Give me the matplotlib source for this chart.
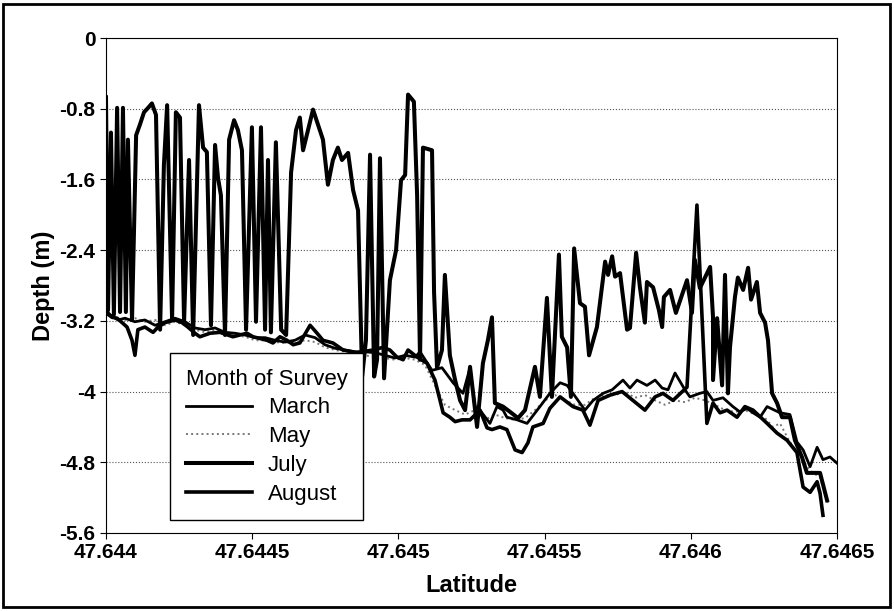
import numpy as np
import matplotlib
matplotlib.use("Agg")
from matplotlib import pyplot as plt
from matplotlib.patches import Rectangle

# depth surveys along the transect
march_lat = [47.644000, 47.644014, 47.644041, 47.644065, 47.644099, 47.644133, 47.644168, 47.644202,
             47.644236, 47.644270, 47.644304, 47.644339, 47.644373, 47.644407, 47.644441, 47.644475,
             47.644510, 47.644544, 47.644578, 47.644612, 47.644646, 47.644681, 47.644715, 47.644749,
             47.644783, 47.644817, 47.644852, 47.644886, 47.644920, 47.644954, 47.644988, 47.645023,
             47.645057, 47.645074, 47.645115, 47.645149, 47.645187, 47.645221, 47.645245, 47.645262,
             47.645279, 47.645313, 47.645337, 47.645358, 47.645371, 47.645406, 47.645440, 47.645484,
             47.645518, 47.645553, 47.645577, 47.645597, 47.645638, 47.645666, 47.645700, 47.645731,
             47.645768, 47.645792, 47.645816, 47.645850, 47.645878, 47.645902, 47.645922, 47.645946,
             47.645980, 47.645997, 47.646031, 47.646055, 47.646076, 47.646110, 47.646144, 47.646168,
             47.646192, 47.646213, 47.646237, 47.646261, 47.646305, 47.646339, 47.646363, 47.646384,
             47.646408, 47.646432, 47.646452, 47.646476, 47.646500]
march_depth = [-3.08, -3.13, -3.19, -3.17, -3.21, -3.19, -3.25, -3.21,
               -3.17, -3.21, -3.28, -3.30, -3.28, -3.33, -3.34, -3.36,
               -3.39, -3.39, -3.42, -3.44, -3.42, -3.36, -3.39, -3.47,
               -3.51, -3.53, -3.55, -3.55, -3.56, -3.59, -3.62, -3.59,
               -3.61, -3.55, -3.76, -3.73, -3.90, -4.02, -3.73, -4.17,
               -4.21, -4.36, -4.17, -4.21, -4.29, -4.32, -4.36, -4.17,
               -4.02, -3.90, -3.93, -4.02, -4.21, -4.10, -4.02, -3.98,
               -3.87, -3.96, -3.87, -3.93, -3.87, -3.96, -3.98, -3.79,
               -3.98, -4.06, -4.02, -4.00, -4.10, -4.07, -4.17, -4.23,
               -4.19, -4.24, -4.29, -4.17, -4.24, -4.26, -4.57, -4.66,
               -4.85, -4.63, -4.77, -4.74, -4.81]

may_lat = [47.644000, 47.644031, 47.644065, 47.644099, 47.644133, 47.644168, 47.644202, 47.644236,
           47.644270, 47.644304, 47.644339, 47.644373, 47.644407, 47.644441, 47.644475, 47.644510,
           47.644544, 47.644578, 47.644612, 47.644646, 47.644681, 47.644715, 47.644749, 47.644783,
           47.644817, 47.644852, 47.644886, 47.644920, 47.644954, 47.644988, 47.645023, 47.645057,
           47.645091, 47.645125, 47.645159, 47.645194, 47.645228, 47.645262, 47.645296, 47.645330,
           47.645365, 47.645399, 47.645433, 47.645467, 47.645501, 47.645536, 47.645570, 47.645604,
           47.645638, 47.645672, 47.645707, 47.645741, 47.645775, 47.645809, 47.645843, 47.645878,
           47.645912, 47.645946, 47.645980, 47.646014, 47.646049, 47.646083, 47.646117, 47.646151,
           47.646185, 47.646220, 47.646254, 47.646281, 47.646305, 47.646329, 47.646350, 47.646373,
           47.646397, 47.646418, 47.646442, 47.646469]
may_depth = [-3.10, -3.17, -3.19, -3.17, -3.21, -3.19, -3.25, -3.21,
             -3.25, -3.30, -3.33, -3.30, -3.36, -3.36, -3.38, -3.42,
             -3.42, -3.44, -3.45, -3.44, -3.42, -3.44, -3.50, -3.53,
             -3.55, -3.59, -3.59, -3.61, -3.62, -3.64, -3.62, -3.64,
             -3.70, -3.93, -4.15, -4.21, -4.26, -4.21, -4.32, -4.26,
             -4.30, -4.32, -4.30, -4.21, -4.10, -4.04, -4.10, -4.15,
             -4.15, -4.07, -4.04, -4.04, -4.00, -4.07, -4.04, -4.10,
             -4.15, -4.10, -4.12, -4.07, -4.10, -4.15, -4.21, -4.23,
             -4.21, -4.26, -4.30, -4.40, -4.36, -4.51, -4.63, -4.69,
             -4.85, -4.92, -4.97, -5.26]

july_lat = [47.644000, 47.644007, 47.644017, 47.644027, 47.644038, 47.644048, 47.644058, 47.644068,
            47.644075, 47.644089, 47.644103, 47.644116, 47.644130, 47.644144, 47.644157, 47.644171,
            47.644185, 47.644198, 47.644209, 47.644226, 47.644239, 47.644253, 47.644267, 47.644284,
            47.644298, 47.644318, 47.644332, 47.644345, 47.644359, 47.644373, 47.644383, 47.644393,
            47.644407, 47.644421, 47.644438, 47.644451, 47.644465, 47.644479, 47.644499, 47.644513,
            47.644530, 47.644544, 47.644554, 47.644564, 47.644581, 47.644599, 47.644616, 47.644633,
            47.644650, 47.644663, 47.644674, 47.644691, 47.644708, 47.644725, 47.644742, 47.644759,
            47.644776, 47.644793, 47.644807, 47.644828, 47.644845, 47.644862, 47.644876, 47.644889,
            47.644903, 47.644917, 47.644927, 47.644937, 47.644951, 47.644971, 47.644992, 47.645009,
            47.645023, 47.645033, 47.645053, 47.645064, 47.645074, 47.645084, 47.645115, 47.645122,
            47.645132, 47.645149, 47.645159, 47.645176, 47.645194, 47.645211, 47.645228, 47.645245,
            47.645269, 47.645289, 47.645306, 47.645320, 47.645330, 47.645358, 47.645382, 47.645409,
            47.645433, 47.645467, 47.645484, 47.645508, 47.645525, 47.645549, 47.645559, 47.645577,
            47.645590, 47.645601, 47.645621, 47.645638, 47.645652, 47.645679, 47.645707, 47.645717,
            47.645731, 47.645741, 47.645758, 47.645782, 47.645792, 47.645813, 47.645826, 47.645843,
            47.645850, 47.645871, 47.645891, 47.645902, 47.645908, 47.645929, 47.645949, 47.645987,
            47.646004, 47.646014, 47.646031, 47.646066, 47.646076, 47.646076, 47.646090, 47.646107,
            47.646117, 47.646127, 47.646134, 47.646151, 47.646161, 47.646179, 47.646196, 47.646206,
            47.646226, 47.646237, 47.646254, 47.646264, 47.646278, 47.646295, 47.646312, 47.646339,
            47.646356, 47.646380, 47.646397, 47.646418, 47.646442, 47.646466]
july_depth = [-0.67, -3.08, -1.07, -3.13, -0.79, -3.10, -0.79, -3.10,
              -1.15, -3.19, -1.10, -0.98, -0.84, -0.79, -0.74, -0.87,
              -3.30, -1.44, -0.76, -3.19, -0.84, -0.90, -3.21, -1.38,
              -3.36, -0.76, -1.24, -1.29, -3.25, -1.21, -1.58, -1.78,
              -3.36, -1.15, -0.93, -1.04, -1.27, -3.30, -1.01, -3.21,
              -1.01, -3.30, -1.38, -3.33, -1.18, -3.30, -3.36, -1.52,
              -1.04, -0.90, -1.27, -1.04, -0.81, -0.98, -1.15, -1.66,
              -1.38, -1.24, -1.38, -1.30, -1.72, -1.95, -3.83, -3.42,
              -1.32, -3.83, -3.64, -1.36, -3.85, -2.74, -2.40, -1.61,
              -1.55, -0.64, -0.72, -1.78, -3.64, -1.24, -1.27, -2.88,
              -3.73, -3.53, -2.68, -3.59, -3.87, -4.10, -4.21, -3.72,
              -4.40, -3.68, -3.42, -3.16, -4.13, -4.17, -4.23, -4.30,
              -4.21, -3.72, -4.06, -2.94, -4.06, -2.45, -3.38, -3.50,
              -4.06, -2.38, -3.00, -3.04, -3.59, -3.27, -2.53, -2.68,
              -2.47, -2.70, -2.66, -3.30, -3.28, -2.43, -2.82, -3.22,
              -2.76, -2.82, -3.08, -3.27, -2.93, -2.85, -3.11, -2.74,
              -3.11, -2.51, -2.83, -2.59, -3.16, -3.87, -3.17, -3.93,
              -2.68, -4.02, -3.50, -2.93, -2.71, -2.85, -2.60, -2.96,
              -2.76, -3.11, -3.22, -3.42, -4.02, -4.13, -4.29, -4.29,
              -4.55, -4.74, -4.92, -4.92, -4.92, -5.23]

august_lat = [47.644000, 47.644021, 47.644038, 47.644055, 47.644072, 47.644089, 47.644099, 47.644109,
              47.644133, 47.644161, 47.644178, 47.644202, 47.644236, 47.644260, 47.644280, 47.644304,
              47.644321, 47.644356, 47.644390, 47.644434, 47.644458, 47.644482, 47.644503, 47.644551,
              47.644571, 47.644595, 47.644619, 47.644640, 47.644663, 47.644698, 47.644722, 47.644742,
              47.644776, 47.644811, 47.644858, 47.644913, 47.644947, 47.644971, 47.644995, 47.645016,
              47.645033, 47.645064, 47.645098, 47.645125, 47.645153, 47.645176, 47.645194, 47.645218,
              47.645245, 47.645279, 47.645303, 47.645320, 47.645347, 47.645371, 47.645399, 47.645423,
              47.645443, 47.645460, 47.645495, 47.645518, 47.645553, 47.645597, 47.645631, 47.645655,
              47.645683, 47.645724, 47.645765, 47.645802, 47.645843, 47.645878, 47.645905, 47.645939,
              47.645987, 47.646021, 47.646055, 47.646076, 47.646100, 47.646124, 47.646158, 47.646185,
              47.646213, 47.646261, 47.646295, 47.646329, 47.646363, 47.646384, 47.646408, 47.646432,
              47.646442, 47.646452]
august_depth = [-3.11, -3.16, -3.17, -3.22, -3.27, -3.42, -3.59, -3.30,
                -3.27, -3.33, -3.27, -3.22, -3.19, -3.22, -3.27, -3.34,
                -3.38, -3.34, -3.33, -3.38, -3.36, -3.34, -3.38, -3.42,
                -3.45, -3.38, -3.42, -3.47, -3.45, -3.25, -3.34, -3.42,
                -3.45, -3.53, -3.56, -3.53, -3.50, -3.53, -3.61, -3.64,
                -3.53, -3.61, -3.68, -3.87, -4.24, -4.29, -4.34, -4.32,
                -4.32, -4.21, -4.41, -4.43, -4.40, -4.43, -4.66, -4.69,
                -4.58, -4.40, -4.36, -4.19, -4.06, -4.17, -4.21, -4.38,
                -4.10, -4.04, -4.00, -4.10, -4.21, -4.06, -4.02, -4.10,
                -3.95, -1.89, -4.36, -4.13, -4.24, -4.21, -4.29, -4.17,
                -4.21, -4.36, -4.47, -4.55, -4.69, -5.08, -5.14, -5.02,
                -5.15, -5.40]

xtick_vals = [47.644, 47.6445, 47.645, 47.6455, 47.646, 47.6465]
xtick_labels = ["47.644", "47.6445", "47.645", "47.6455", "47.646", "47.6465"]
ytick_vals = [0, -0.8, -1.6, -2.4, -3.2, -4.0, -4.8, -5.6]
ytick_labels = ["0", "-0.8", "-1.6", "-2.4", "-3.2", "-4", "-4.8", "-5.6"]

plt.rcParams['font.family'] = ['Liberation Sans', 'DejaVu Sans']

fig = plt.figure(figsize=(8.94, 6.11), dpi=100)
ax = fig.add_axes([106/894, 1 - 533/611, 731/894, 495/611])

ax.plot(may_lat, may_depth, color='#777777', lw=1.4, ls=':', label='May')
ax.plot(march_lat, march_depth, color='black', lw=2.0, label='March')
ax.plot(august_lat, august_depth, color='black', lw=2.6, label='August')
ax.plot(july_lat, july_depth, color='black', lw=2.9, label='July')

ax.set_xlim(47.644, 47.6465)
ax.set_ylim(-5.6, 0)
ax.set_xticks(xtick_vals)
ax.set_xticklabels(xtick_labels)
ax.set_yticks(ytick_vals)
ax.set_yticklabels(ytick_labels)
ax.tick_params(labelsize=15, length=4, direction='out', width=0.8)
for lab in ax.get_xticklabels() + ax.get_yticklabels():
    lab.set_fontweight('bold')
ax.yaxis.grid(True, ls=':', color='#555555', lw=0.8)
ax.set_axisbelow(True)
for s in ax.spines.values():
    s.set_linewidth(0.8)
    s.set_color('black')

ax.set_xlabel('Latitude', fontsize=17, fontweight='bold', labelpad=8)
ax.set_ylabel('Depth (m)', fontsize=17, fontweight='bold', labelpad=3)

# legend order as in the original
h, l = ax.get_legend_handles_labels()
order = [l.index(n) for n in ['March', 'May', 'July', 'August']]
leg = ax.legend([h[i] for i in order], [l[i] for i in order],
                title='Month of Survey', loc='upper left',
                bbox_to_anchor=(170/894, 1 - 353/611), bbox_transform=fig.transFigure,
                borderaxespad=0, fontsize=16, title_fontsize=16, frameon=True, fancybox=False,
                edgecolor='black', framealpha=1, handlelength=3.0, handletextpad=0.7,
                labelspacing=0.35, borderpad=0.7, alignment='left')
leg.get_frame().set_linewidth(1.0)

# border round the whole picture
fig.patches.append(Rectangle((3/894, 4/611), 887/894, 603/611, transform=fig.transFigure,
                             fill=False, lw=2, edgecolor='black'))

fig.savefig('out.png', dpi=100, facecolor='white')
